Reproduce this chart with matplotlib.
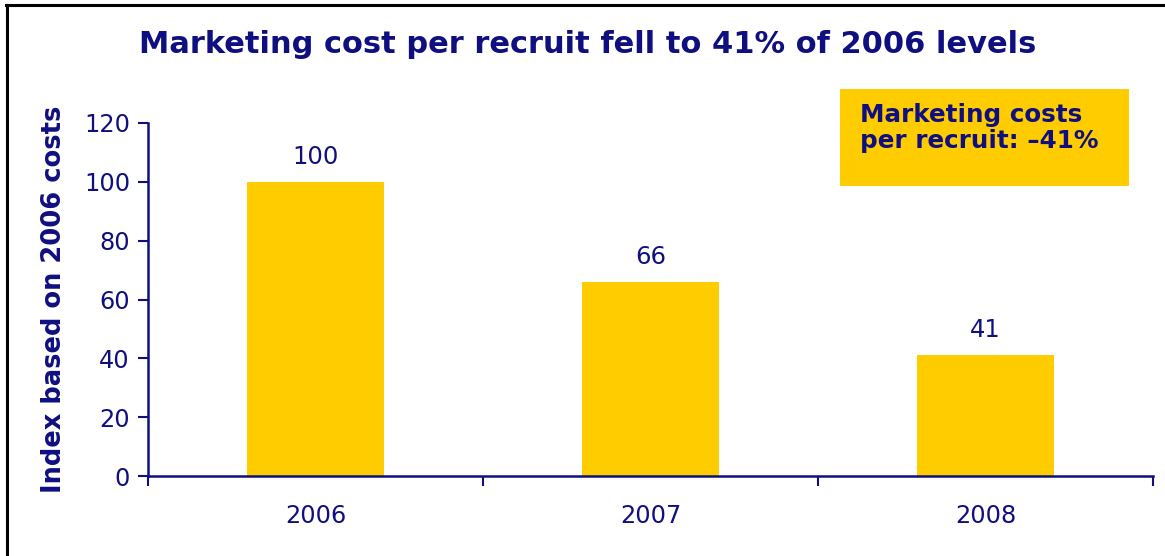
import matplotlib
matplotlib.use("Agg")
import matplotlib.pyplot as plt
from matplotlib.lines import Line2D
from matplotlib.patches import Rectangle

categories = ["2006", "2007", "2008"]
values = [100, 66, 41]
yticks = [0, 20, 40, 60, 80, 100, 120]

NAVY = "#0F0F80"
GOLD = "#FFCC00"
W, H = 1165, 556

fig = plt.figure(figsize=(W / 100, H / 100), dpi=100)
ax = fig.add_axes([148 / W, 1 - 476 / H, (1153 - 148) / W, (476 - 123) / H])

x = list(range(len(categories)))
bars = ax.bar(x, values, width=0.41, color=GOLD, zorder=2)
for xi, v in zip(x, values):
    ax.text(xi, v + 4.5, str(v), ha="center", va="bottom", fontsize=17.5, color=NAVY)

ax.set_xlim(-0.5, len(categories) - 0.5)
ax.set_ylim(0, 120)
ax.set_yticks(yticks)
ax.set_xticks([i - 0.5 for i in range(len(categories) + 1)])
ax.set_xticklabels([])
ax.set_xticks(x, minor=True)
ax.set_xticklabels(categories, minor=True)
ax.tick_params(axis="x", which="minor", length=0, pad=20, labelsize=17.3, labelcolor=NAVY)
ax.tick_params(axis="x", which="major", length=7, width=1.5, color=NAVY, direction="out")
ax.tick_params(axis="y", length=7, width=1.5, color=NAVY, labelsize=17.3, labelcolor=NAVY, pad=6)

for s in ["top", "right"]:
    ax.spines[s].set_visible(False)
for s in ["left", "bottom"]:
    ax.spines[s].set_color(NAVY)
    ax.spines[s].set_linewidth(1.8)

ax.set_ylabel("Index based on 2006 costs", fontsize=18.5, fontweight="bold", color=NAVY, labelpad=12)

fig.text(588 / W, 1 - 45 / H, "Marketing cost per recruit fell to 41% of 2006 levels",
         ha="center", va="center", fontsize=22, fontweight="bold", color=NAVY)

fig.patches.append(Rectangle((840 / W, 1 - 186 / H), (1129 - 840) / W, (186 - 89) / H,
                             transform=fig.transFigure, facecolor=GOLD, edgecolor="none"))
fig.text(860 / W, 1 - 128 / H, "Marketing costs\nper recruit: \u201341%", ha="left", va="center",
         fontsize=17.7, fontweight="bold", color=NAVY, linespacing=1.08)

fig.add_artist(Line2D([7 / W, 7 / W], [0, 1 - 5 / H], transform=fig.transFigure, color="black", lw=2.2))
fig.add_artist(Line2D([6 / W, 1], [1 - 5 / H, 1 - 5 / H], transform=fig.transFigure, color="black", lw=2.2))

fig.savefig("out.png", dpi=100)
